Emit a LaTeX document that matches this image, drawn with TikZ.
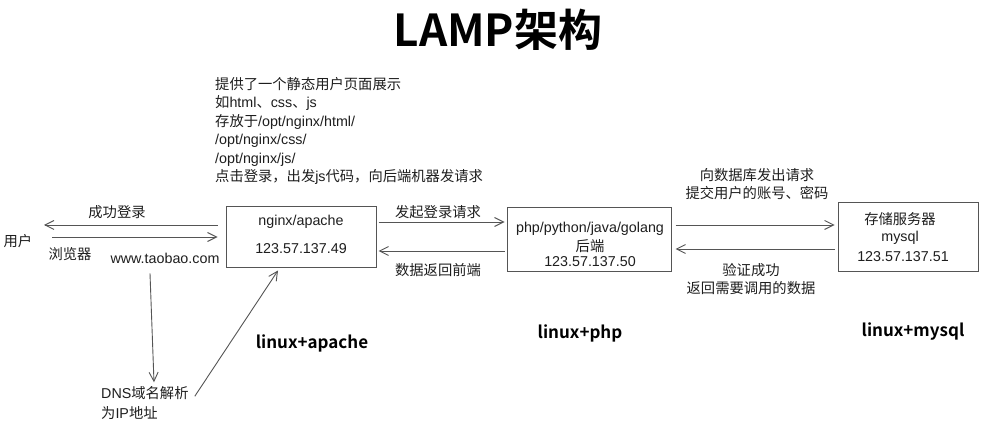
\documentclass[tikz,border=0pt]{standalone}
\usepackage{fontspec}
\setmainfont{Liberation Sans}
\newfontfamily\cjkf[BoldFont={Noto Sans CJK SC Bold}]{Noto Sans CJK SC}
\newcommand\zh[1]{{\cjkf #1}}
\usetikzlibrary{arrows.meta}
\definecolor{ink}{HTML}{1E1E1E}
\definecolor{linec}{HTML}{555555}
\tikzset{
  txt/.style={font=\fontsize{14.3}{18.4}\selectfont, text=ink, inner sep=0pt},
  boldlbl/.style={font=\cjkf\bfseries\fontsize{17}{20}\selectfont, text=black, inner sep=0pt},
  titlelbl/.style={font=\cjkf\bfseries\fontsize{44}{50}\selectfont, text=black, inner sep=0pt},
  box/.style={draw=linec, line width=1pt, inner sep=0pt},
  arr/.style={draw=linec, line width=0.9pt, -{Straight Barb[length=9pt,width=9pt]}}
}
\begin{document}
\begin{tikzpicture}[x=1pt,y=-1pt]
\useasboundingbox[fill=white] (0,0) rectangle (993,446);

% title
\node[titlelbl] (title) at (498,30) {LAMP架构};

% user side
\node[txt] (user) at (18,241) {\zh{用户}};
\node[txt] (browser) at (70,254) {\zh{浏览器}};
\node[txt] (url) at (165,258) {www.taobao.com};
\node[txt] (ok) at (117,212) {\zh{成功登录}};

% info block
\node[txt, align=left, anchor=west] (info) at (215,131) {\zh{提供了一个静态用户页面展示}\\
\zh{如}html\zh{、}css\zh{、}js\\
\zh{存放于}/opt/nginx/html/\\
/opt/nginx/css/\\
/opt/nginx/js/\\
\zh{点击登录，出发}js\zh{代码，向后端机器发请求}};

% nginx box
\node[box, minimum width=150, minimum height=61] (nginx) at (301,237.5) {};
\node[txt] (ngname) at (301,222) {nginx/apache};
\node[txt] (ngip) at (301,249) {123.57.137.49};

% backend box
\node[box, minimum width=164, minimum height=64] (be) at (589,240) {};
\node[txt] (bename) at (590,229) {php/python/java/golang};
\node[txt] (berole) at (590,246) {\zh{后端}};
\node[txt] (beip) at (590,262) {123.57.137.50};

% mysql box
\node[box, minimum width=140, minimum height=69] (db) at (908,237.5) {};
\node[txt] (dbname) at (900,219) {\zh{存储服务器}};
\node[txt] (dbsql) at (900,238) {mysql};
\node[txt] (dbip) at (903,257) {123.57.137.51};

% labels between boxes
\node[txt] (req) at (438,212) {\zh{发起登录请求}};
\node[txt] (ret) at (438,270) {\zh{数据返回前端}};
\node[txt, align=center] (dbreq) at (757,184) {\zh{向数据库发出请求}\\\zh{提交用户的账号、密码}};
\node[txt, align=center] (dbret) at (751,279) {\zh{验证成功}\\\zh{返回需要调用的数据}};

% bold labels
\node[boldlbl] (la) at (312,343) {linux+apache};
\node[boldlbl] (lp) at (580,333) {linux+php};
\node[boldlbl] (lm) at (913,332) {linux+mysql};

% DNS
\node[txt, align=left, anchor=west] (dns) at (101,403) {DNS\zh{域名解析}\\[1.6pt]\zh{为}IP\zh{地址}};

% arrows
\coordinate (uL1) at (44,225);
\coordinate (uL2) at (52,237);
\draw[arr, shorten <=8pt] (nginx.west |- uL1) -- (uL1);
\draw[arr, shorten >=8pt] (uL2) -- (nginx.west |- uL2);

\coordinate (y1) at (0,222);
\coordinate (y2) at (0,251);
\draw[arr, shorten <=2pt, shorten >=2pt] (nginx.east |- y1) -- (be.west |- y1);
\draw[arr, shorten <=2pt, shorten >=2pt] (be.west |- y2) -- (nginx.east |- y2);

\coordinate (y3) at (0,225);
\coordinate (y4) at (0,249);
\draw[arr, shorten <=4pt, shorten >=3pt] (be.east |- y3) -- (db.west |- y3);
\draw[arr, shorten <=3pt, shorten >=4pt] (db.west |- y4) -- (be.east |- y4);

\draw[arr] ([shift={(-15,10)}]url.south) -- ([shift={(53,-4)}]dns.north west);
\draw[arr] ([shift={(6,10)}]dns.north east) -- ([shift={(-23,2)}]nginx.south);
\end{tikzpicture}
\end{document}
